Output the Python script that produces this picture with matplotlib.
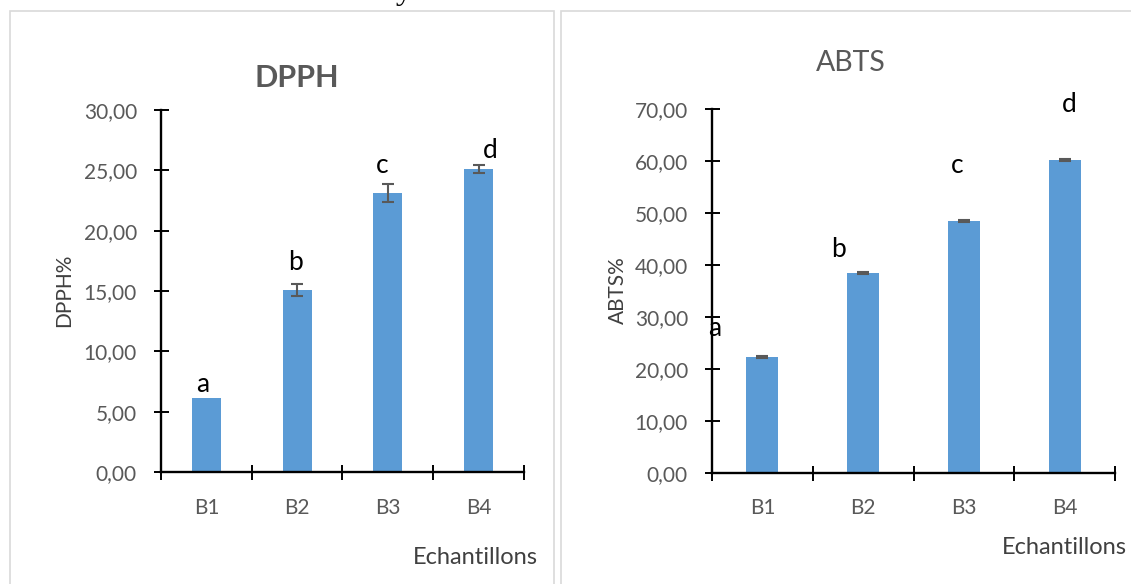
import numpy as np
from matplotlib import pyplot as plt
from matplotlib.patches import Rectangle
from matplotlib.ticker import FuncFormatter, FixedLocator

plt.rcParams['font.family'] = ['Lato', 'DejaVu Sans']

# data
samples = ['B1', 'B2', 'B3', 'B4']
dpph = [6.15, 15.1, 23.1, 25.1]
dpph_err = [0.0, 0.5, 0.75, 0.33]
dpph_letters = ['a', 'b', 'c', 'd']
abts = [22.25, 38.4, 48.4, 60.1]
abts_err = [0.15, 0.15, 0.2, 0.15]
abts_letters = ['a', 'b', 'c', 'd']

# where the letters sit (offset from category centre, baseline in data units)
dpph_lab_dx = [-0.04, -0.02, -0.06, 0.13]
dpph_lab_y = [6.65, 16.75, 24.8, 26.0]
abts_lab_dx = [-0.475, -0.24, -0.07, 0.05]
abts_lab_y = [26.3, 41.5, 57.6, 69.4]

W, H = 1131, 584
bar_col = '#5B9BD5'
txt_gray = '#595959'


def px(x, y):
    # pixel position (from top-left) to figure fraction
    return x / W, 1 - y / H


def comma_fmt(v, pos):
    return '{:.2f}'.format(v).replace('.', ',')


def draw_panel(ax, vals, errs, letters, lab_dx, lab_y, ymax, ystep):
    x = np.arange(len(samples))
    ax.bar(x, vals, width=0.32, color=bar_col, zorder=2)
    # no whisker where the error is zero
    e = np.array(errs, dtype=float)
    e[e <= 0] = np.nan
    ax.errorbar(x, vals, yerr=e, fmt='none', ecolor=txt_gray,
                elinewidth=1.5, capsize=4.3, capthick=1.5, zorder=3)
    ax.set_xlim(-0.5, len(samples) - 0.5)
    ax.set_ylim(0, ymax)
    for s in ['top', 'right']:
        ax.spines[s].set_visible(False)
    for s in ['left', 'bottom']:
        ax.spines[s].set_linewidth(1.7)
        ax.spines[s].set_color('black')
    ax.set_yticks(np.arange(0, ymax + 0.1, ystep))
    ax.yaxis.set_major_formatter(FuncFormatter(comma_fmt))
    ax.tick_params(axis='y', direction='inout', length=10.8, width=1.4,
                   pad=11.9, labelsize=15, labelcolor=txt_gray)
    # category boundaries as ticks, names in the middle
    ax.xaxis.set_major_locator(FixedLocator(np.arange(-0.5, len(samples), 1.0)))
    ax.xaxis.set_major_formatter(FuncFormatter(lambda v, p: ''))
    ax.xaxis.set_minor_locator(FixedLocator(x))
    ax.set_xticklabels(samples, minor=True)
    ax.tick_params(axis='x', which='major', direction='inout', length=10.8, width=1.4)
    ax.tick_params(axis='x', which='minor', length=0, pad=18.5,
                   labelsize=15, labelcolor=txt_gray)
    for i, l in enumerate(letters):
        ax.text(x[i] + lab_dx[i], lab_y[i], l, ha='center', va='baseline',
                fontsize=19, color='black')


fig = plt.figure(figsize=(W / 100, H / 100), dpi=100)

# chart area frames
fig.patches.append(Rectangle(px(9.5, 640), (554 - 9.5) / W, (640 - 10.5) / H,
                             transform=fig.transFigure, fill=False,
                             edgecolor='#d9d9d9', linewidth=1.2))
fig.patches.append(Rectangle(px(560.5, 640), (1200 - 560.5) / W, (640 - 10.5) / H,
                             transform=fig.transFigure, fill=False,
                             edgecolor='#d9d9d9', linewidth=1.2))

ax1 = fig.add_axes([161 / W, 1 - 472 / H, 363 / W, 362 / H])
draw_panel(ax1, dpph, dpph_err, dpph_letters, dpph_lab_dx, dpph_lab_y, 30, 5)

ax2 = fig.add_axes([712 / W, 1 - 472.7 / H, 403 / W, 364 / H])
draw_panel(ax2, abts, abts_err, abts_letters, abts_lab_dx, abts_lab_y, 70, 10)

# titles and axis names
fig.text(*px(297, 78), 'DPPH', ha='center', va='center', fontsize=22,
         fontweight='bold', color=txt_gray)
fig.text(*px(851, 63), 'ABTS', ha='center', va='center', fontsize=20.5,
         color=txt_gray)
fig.text(*px(64, 290), 'DPPH%', ha='center', va='center', rotation=90,
         fontsize=15, color='#404040')
fig.text(*px(618, 290), 'ABTS%', ha='center', va='center', rotation=90,
         fontsize=15, color='#404040')
fig.text(*px(475, 558), 'Echantillons', ha='center', va='center',
         fontsize=17, color='#404040')
fig.text(*px(1064, 547), 'Echantillons', ha='center', va='center',
         fontsize=17, color='#404040')

# caption above, mostly cut off by the page edge
fig.text(*px(20, -1.5), "Variation de l'activité antioxydante", ha='left',
         va='baseline', fontsize=24, family='Liberation Serif', color='black')

plt.savefig('out.png', dpi=100)
